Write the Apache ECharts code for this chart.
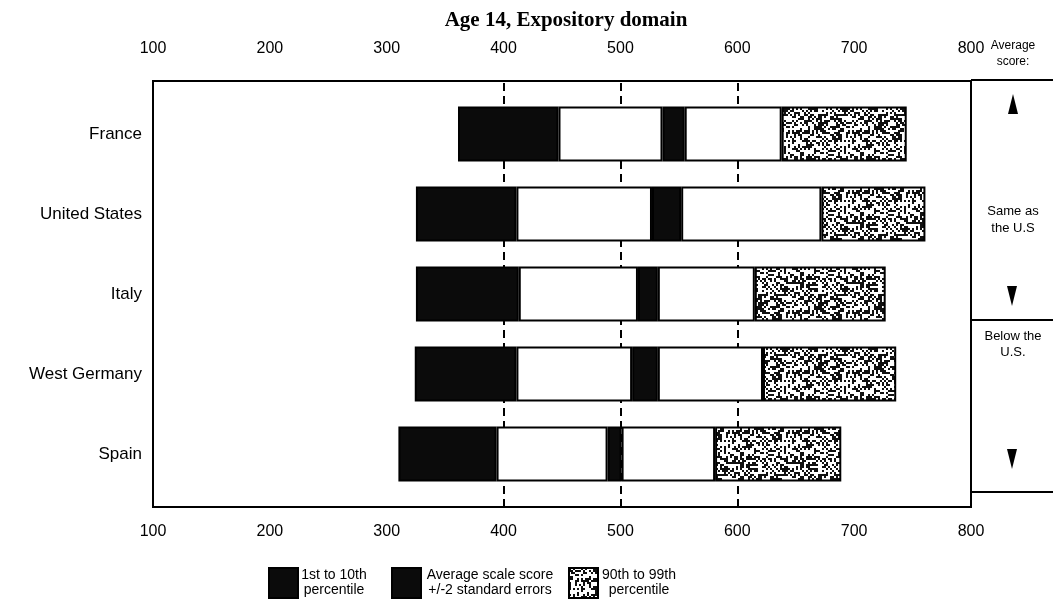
<!DOCTYPE html>
<html>
<head>
<meta charset="utf-8">
<script src="https://cdn.jsdelivr.net/npm/echarts@6/dist/echarts.min.js"></script>
<style>
html,body{margin:0;padding:0;background:#fff;}
#chart{width:1053px;height:608px;}
</style>
</head>
<body>
<div id="chart"></div>
<script>
// ---- data ----
const categories = ['France', 'United States', 'Italy', 'West Germany', 'Spain'];
const p1     = [361, 325, 325, 324, 310];   // 1st percentile
const p10    = [447, 411, 413, 411, 394];   // 10th percentile
const meanLo = [536, 527, 515, 510, 489];   // average - 2 SE
const meanHi = [555, 552, 532, 532, 501];   // average + 2 SE
const p90    = [638, 672, 615, 622, 581];   // 90th percentile
const p99    = [745, 761, 727, 736, 689];   // 99th percentile
const axisMin = 100, axisMax = 800, axisStep = 100;
const refLines = [400, 500, 600];
const legendNames = ['1st to 10th percentile', 'Average scale score +/-2 standard errors', '90th to 99th percentile'];
const legendLines = {
  '1st to 10th percentile': ['1st to 10th', 'percentile'],
  'Average scale score +/-2 standard errors': ['Average scale score', '+/-2 standard errors'],
  '90th to 99th percentile': ['90th to 99th', 'percentile']
};

// ---- texture for the 90th-99th segment ----
function makeNoise() {
  const c = document.createElement('canvas');
  c.width = 60; c.height = 60;
  const ctx = c.getContext('2d');
  ctx.fillStyle = '#ffffff';
  ctx.fillRect(0, 0, 60, 60);
  ctx.fillStyle = '#111111';
  for (let y = 0; y < 60; y += 2) {
    for (let x = 0; x < 60; x += 2) {
      let h = Math.imul(x + 17, 374761393) ^ Math.imul(y + 31, 668265263);
      h = Math.imul(h ^ (h >>> 13), 1274126177);
      h = (h ^ (h >>> 16)) >>> 0;
      if (h % 100 < 43) ctx.fillRect(x, y, 2, 2);
    }
  }
  return c;
}
const noise = makeNoise();

const sub = (a, b) => a.map((v, i) => v - b[i]);
const FONT = '"Liberation Sans", Arial, sans-serif';

const chart = echarts.init(document.getElementById('chart'), null, {renderer: 'canvas'});

const segStyle = (color) => ({color: color, borderColor: '#000', borderWidth: 2});

const barSeries = [
  {name: 'base', data: p1, itemStyle: {color: 'rgba(0,0,0,0)', borderWidth: 0}},
  {name: legendNames[0], data: sub(p10, p1), itemStyle: segStyle('#0b0b0b')},
  {name: 'low', data: sub(meanLo, p10), itemStyle: segStyle('#ffffff')},
  {name: legendNames[1], data: sub(meanHi, meanLo), itemStyle: segStyle('#0b0b0b')},
  {name: 'high', data: sub(p90, meanHi), itemStyle: segStyle('#ffffff')},
  {name: legendNames[2], data: sub(p99, p90), itemStyle: segStyle({image: noise, repeat: 'repeat'})}
].map(s => Object.assign({
  type: 'bar', stack: 'total', xAxisIndex: 2, yAxisIndex: 1,
  barWidth: 55, z: 3, silent: true, emphasis: {disabled: true}
}, s));

const legendPos = [268, 391, 568];
const legends = legendNames.map((n, i) => ({
  data: [n], left: legendPos[i], top: 567, orient: 'horizontal', padding: 0,
  icon: 'rect', itemWidth: 29, itemHeight: 30, selectedMode: false,
  formatter: (name) => legendLines[name].map(t => '{c|' + t + '}').join('\n'),
  textStyle: {
    fontFamily: FONT, fontSize: 14, color: '#000',
    rich: {c: {fontFamily: FONT, fontSize: 14, lineHeight: 15, color: '#000', align: 'center', width: i === 1 ? 128 : (i === 0 ? 62 : 72)}}
  }
}));

const tri = (cx, cy, up) => ({
  type: 'polygon',
  shape: {points: up ? [[cx, cy - 10], [cx - 5, cy + 10], [cx + 5, cy + 10]] : [[cx - 5, cy - 10], [cx + 5, cy - 10], [cx, cy + 10]]},
  style: {fill: '#000'}
});
const txt = (x, y, s, size) => ({
  type: 'text', x: x, y: y,
  style: {text: s, fontFamily: FONT, fontSize: size, fill: '#000', align: 'center', verticalAlign: 'middle'}
});
const hline = (y) => ({type: 'line', shape: {x1: 971, y1: y, x2: 1053, y2: y}, style: {stroke: '#000', lineWidth: 2}});

const option = {
  animation: false,
  backgroundColor: '#ffffff',
  title: {
    text: 'Age 14, Expository domain', left: 561, top: 5, textAlign: 'center',
    textStyle: {fontFamily: '"Liberation Serif", "Times New Roman", serif', fontWeight: 'bold', fontSize: 21, color: '#000'}
  },
  legend: legends,
  grid: [
    {left: 153, right: 82, top: 81, bottom: 101, show: true, borderColor: '#000', borderWidth: 2, backgroundColor: 'rgba(0,0,0,0)'},
    {left: 153, right: 82, top: 94, bottom: 114}
  ],
  xAxis: [
    {type: 'value', gridIndex: 0, position: 'bottom', min: axisMin, max: axisMax, interval: axisStep,
     axisLine: {show: false}, axisTick: {show: false}, splitLine: {show: false},
     axisLabel: {margin: 17, fontFamily: FONT, fontSize: 16, color: '#000'}},
    {type: 'value', gridIndex: 0, position: 'top', min: axisMin, max: axisMax, interval: axisStep,
     axisLine: {show: false}, axisTick: {show: false}, splitLine: {show: false},
     axisLabel: {margin: 24, fontFamily: FONT, fontSize: 16, color: '#000'}},
    {type: 'value', gridIndex: 1, min: axisMin, max: axisMax, show: false}
  ],
  yAxis: [
    {type: 'value', gridIndex: 0, min: 0, max: 1, show: false},
    {type: 'category', gridIndex: 1, data: categories, inverse: true,
     axisLine: {show: false}, axisTick: {show: false}, splitLine: {show: false},
     axisLabel: {margin: 11, fontFamily: FONT, fontSize: 17, color: '#000'}}
  ],
  series: [
    {type: 'line', xAxisIndex: 0, yAxisIndex: 0, data: [], z: 1, silent: true,
     markLine: {z: 1, silent: true, symbol: ['none', 'none'], label: {show: false},
       lineStyle: {color: '#000', width: 2, type: [8, 5]},
       emphasis: {disabled: true},
       data: refLines.map(v => ({xAxis: v}))}}
  ].concat(barSeries),
  graphic: [
    txt(1013, 46, 'Average', 12),
    txt(1013, 62, 'score:', 12),
    hline(80),
    tri(1013, 104, true),
    txt(1013, 211, 'Same as', 13),
    txt(1013, 228, 'the U.S', 13),
    tri(1012, 296, false),
    hline(320),
    txt(1013, 336, 'Below the', 13),
    txt(1013, 352, 'U.S.', 13),
    tri(1012, 459, false),
    hline(492)
  ]
};
chart.setOption(option);
</script>
</body>
</html>
